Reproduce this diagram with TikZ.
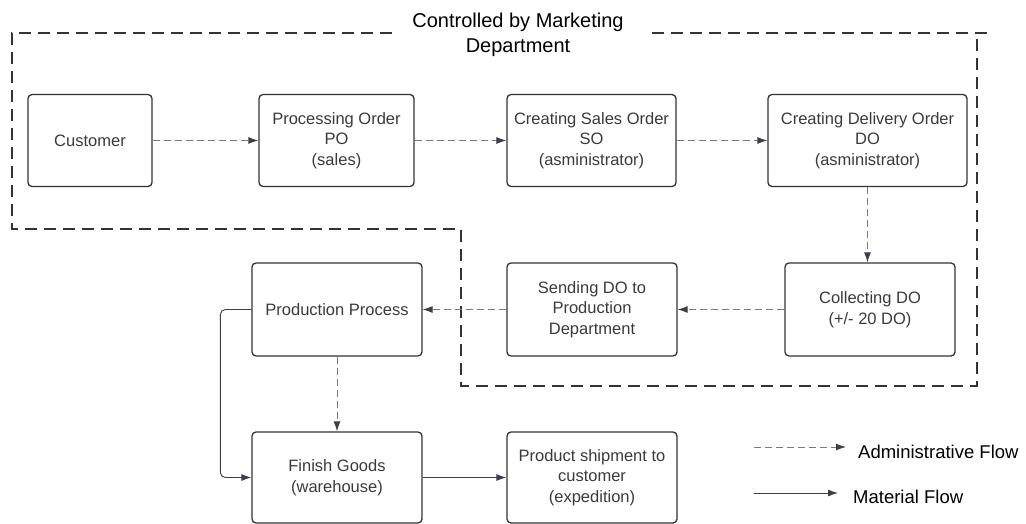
\documentclass[tikz,border=0pt]{standalone}
\usepackage{fontspec}
\setmainfont{Liberation Sans}
\usetikzlibrary{arrows.meta}
\definecolor{boxline}{HTML}{333333}
\definecolor{boxtxt}{HTML}{3A3A3A}
\definecolor{flowgray}{HTML}{7A7A7A}
\definecolor{tipdark}{HTML}{3A3F4A}
\tikzset{
  stepbox/.style={draw=boxline, line width=1.3pt, rounded corners=4pt, align=center,
    text=boxtxt, font=\fontsize{16.5}{20.5}\selectfont, inner sep=2pt},
  admin/.style={draw=flowgray, line width=0.9pt, dash pattern=on 7pt off 4pt,
    -{Latex[length=10pt,width=7pt,color=tipdark]}},
  material/.style={draw=tipdark, line width=0.9pt,
    -{Latex[length=10pt,width=7pt,color=tipdark]}},
  boundary/.style={draw=boxline, line width=1.6pt, dash pattern=on 12pt off 7pt},
  legendtxt/.style={anchor=west, text=black, font=\fontsize{18.5}{22}\selectfont, inner sep=0pt}
}
\begin{document}
\begin{tikzpicture}[x=1pt,y=-1pt]
\useasboundingbox (0,0) rectangle (1026,524);
% boundary
\draw[boundary] (392,33) -- (12,33) -- (12,229) -- (461,229) -- (461,386) -- (977,386) -- (977,33);
\draw[boundary] (652,33) -- (990,33);
\node[align=center, font=\fontsize{20}{25}\selectfont, text=black] (title) at (518,35) {Controlled by Marketing\\Department};
% boxes
\node[stepbox, minimum width=124pt, minimum height=92pt] (cust) at (90,140.5) {Customer};
\node[stepbox, minimum width=155pt, minimum height=92pt] (po) at (336.5,140.5) {Processing Order\\PO\\(sales)};
\node[stepbox, minimum width=169pt, minimum height=92pt] (so) at (591.5,140.5) {Creating Sales Order\\SO\\(asministrator)};
\node[stepbox, minimum width=199pt, minimum height=92pt] (do) at (867.5,140.5) {Creating Delivery Order\\DO\\(asministrator)};
\node[stepbox, minimum width=170pt, minimum height=93pt] (prod) at (337,309.5) {Production Process};
\node[stepbox, minimum width=170pt, minimum height=93pt] (send) at (592,309.5) {Sending DO to\\Production\\Department};
\node[stepbox, minimum width=170pt, minimum height=93pt] (coll) at (870,309.5) {Collecting DO\\(+/- 20 DO)};
\node[stepbox, minimum width=170pt, minimum height=91pt] (fin) at (337,477.5) {Finish Goods\\(warehouse)};
\node[stepbox, minimum width=170pt, minimum height=91pt] (ship) at (592,477.5) {Product shipment to\\customer\\(expedition)};
% connectors
\draw[admin] (cust) -- (po);
\draw[admin] (po) -- (so);
\draw[admin] (so) -- (do);
\draw[admin] (do.south) -- (do.south |- coll.north);
\draw[admin] (coll) -- (send);
\draw[admin] (send) -- (prod);
\draw[admin] (prod) -- (fin);
\draw[material, rounded corners=5pt] (prod.west) -- ++(-31,0) |- (fin.west);
\draw[material] (fin) -- (ship);
% legend
\coordinate (la1) at (754,447);
\coordinate (la2) at (846,447);
\coordinate (lm1) at (754,493);
\coordinate (lm2) at (838,493);
\draw[admin] (la1) -- (la2);
\draw[material] (lm1) -- (lm2);
\node[legendtxt] (ladmin) at (858,452) {Administrative Flow};
\node[legendtxt] (lmat) at (853,497) {Material Flow};
\end{tikzpicture}
\end{document}
